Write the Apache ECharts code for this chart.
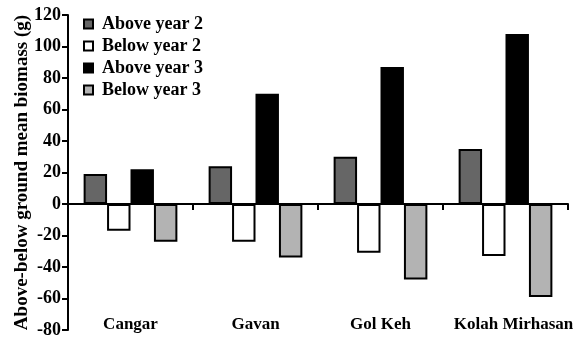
<!DOCTYPE html>
<html>
<head>
<meta charset="utf-8">
<script src="https://cdn.jsdelivr.net/npm/echarts@6/dist/echarts.min.js"></script>
<style>
  html, body { margin: 0; padding: 0; background: #fff; }
  #chart { width: 587px; height: 339px; }
</style>
</head>
<body>
<div id="chart"></div>
<script>
// Sites along the x axis
const sites = ['Cangar', 'Gavan', 'Gol Keh', 'Kolah Mirhasan'];

// Mean biomass (g): above-ground positive, below-ground negative
const aboveYear2 = [19, 24, 30, 35];
const belowYear2 = [-17, -24, -31, -33];
const aboveYear3 = [22, 70, 87, 108];
const belowYear3 = [-24, -34, -48, -59];

const seriesNames = ['Above year 2', 'Below year 2', 'Above year 3', 'Below year 3'];
const seriesColors = ['#666666', '#ffffff', '#000000', '#b3b3b3'];
const seriesData = [aboveYear2, belowYear2, aboveYear3, belowYear3];

// value axis range
const yMin = -80;
const yMax = 120;
const yStep = 20;

const font = '"Liberation Serif", "Times New Roman", serif';
const labelFont = { fontFamily: font, fontWeight: 'bold', fontSize: 17, color: '#000' };

const chart = echarts.init(document.getElementById('chart'), null, { renderer: 'canvas' });

chart.setOption({
  animation: false,
  backgroundColor: '#ffffff',
  grid: { left: 68, right: 19, top: 15, bottom: 7, containLabel: false },
  legend: {
    orient: 'vertical',
    left: 83,
    top: 15,
    padding: 0,
    icon: 'rect',
    itemWidth: 9,
    itemHeight: 9,
    itemGap: 4,
    textStyle: { fontFamily: font, fontWeight: 'bold', fontSize: 18, color: '#000', lineHeight: 18, padding: [0, 0, 0, 4] },
    data: seriesNames
  },
  xAxis: [
    {
      // zero baseline with ticks between sites
      type: 'category',
      data: sites,
      z: 10,
      axisLine: { show: true, onZero: true, lineStyle: { color: '#000', width: 2 } },
      axisTick: { show: true, inside: false, interval: 0, alignWithLabel: false, length: 6, lineStyle: { color: '#000', width: 2 } },
      axisLabel: { show: false },
      splitLine: { show: false }
    },
    {
      // site names along the bottom of the plot
      type: 'category',
      data: sites,
      position: 'bottom',
      axisLine: { show: false, onZero: false },
      axisTick: { show: false },
      axisLabel: {
        show: true, interval: 0, margin: -12, lineHeight: 14, ...labelFont,
        formatter: (v, i) => (i === sites.length - 1 ? '{r|' + v + '}' : v),
        rich: { r: { ...labelFont, lineHeight: 14, padding: [0, 0, 0, 16] } }
      },
      splitLine: { show: false }
    }
  ],
  yAxis: {
    type: 'value',
    min: yMin,
    max: yMax,
    interval: yStep,
    name: 'Above-below ground mean biomass (g)',
    nameLocation: 'middle',
    nameRotate: 90,
    nameGap: 36,
    nameMoveOverlap: false,
    nameTextStyle: { fontFamily: font, fontWeight: 'bold', fontSize: 19, color: '#000' },
    axisLine: { show: true, lineStyle: { color: '#000', width: 2 } },
    axisTick: { show: true, length: 6, lineStyle: { color: '#000', width: 2 } },
    axisLabel: { margin: 7, fontFamily: font, fontWeight: 'bold', fontSize: 18, lineHeight: 12, color: '#000' },
    splitLine: { show: false }
  },
  series: seriesNames.map((name, i) => ({
    name: name,
    type: 'bar',
    xAxisIndex: 0,
    data: seriesData[i],
    barGap: '0%',
    barCategoryGap: '25%',
    itemStyle: { color: seriesColors[i], borderColor: '#000', borderWidth: 2 }
  }))
});
</script>
</body>
</html>
